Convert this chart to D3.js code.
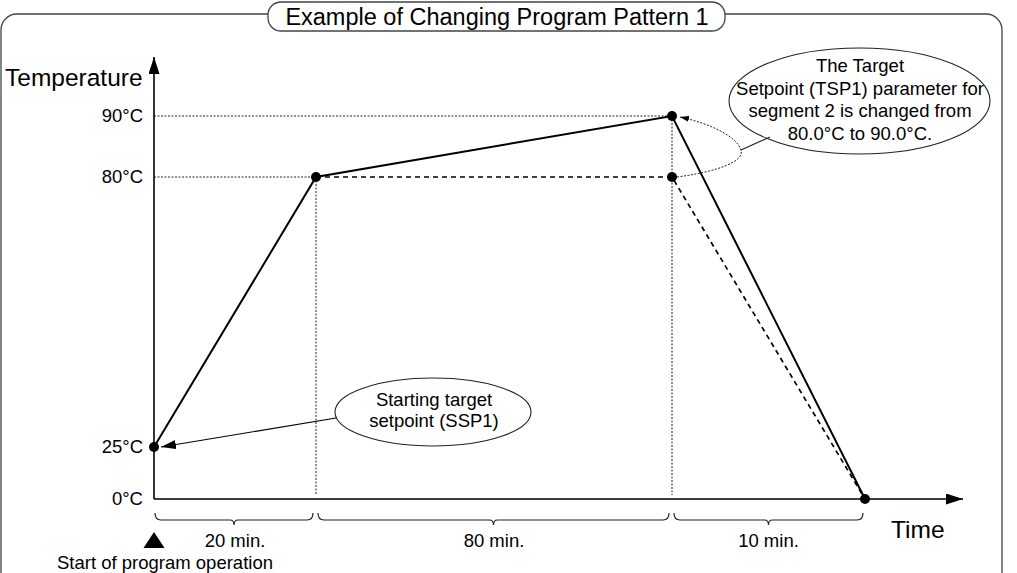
<!DOCTYPE html>
<html><head><meta charset="utf-8">
<script src="https://cdn.jsdelivr.net/npm/d3@7"></script>
<style>html,body{margin:0;padding:0;background:#fff}svg{display:block;font-family:"Liberation Sans",Arial,sans-serif}</style>
</head><body>
<script>
// ---- data ----
const timeBreaks = [0, 20, 100, 110];          // minutes (cumulative)
const tempTicks = [0, 25, 80, 90];             // °C
const tempTickLabels = ["0°C", "25°C", "80°C", "90°C"];
const changedTimes = [0, 20, 100, 110];
const changedTemps = [25, 80, 90, 0];
const originalTimes = [20, 100, 110];
const originalTemps = [80, 80, 0];
const segmentLabels = ["20 min.", "80 min.", "10 min."];
const titleText = "Example of Changing Program Pattern 1";
const calloutStart = ["Starting target", "setpoint (SSP1)"];
const calloutChange = ["The Target", "Setpoint (TSP1) parameter for", "segment 2 is changed from", "80.0°C to 90.0°C."];

const W = 1017, H = 573;
const svg = d3.select("body").append("svg").attr("width", W).attr("height", H);

// schematic (piecewise) scales
const x = d3.scaleLinear().domain(timeBreaks).range([154, 316, 672, 865]);
const y = d3.scaleLinear().domain(tempTicks).range([499, 447, 177, 116]);

const defs = svg.append("defs");
function marker(id, w, h, refX) {
  defs.append("marker").attr("id", id).attr("viewBox", `0 0 ${w} ${h}`)
    .attr("refX", refX).attr("refY", h / 2).attr("markerWidth", w).attr("markerHeight", h)
    .attr("markerUnits", "userSpaceOnUse").attr("orient", "auto")
    .append("path").attr("d", `M0,0 L${w},${h / 2} L0,${h} Z`).attr("fill", "#000");
}
marker("axArrow", 17, 11, 17);
marker("ptArrow", 15, 9, 15);
marker("smArrow", 9, 6, 9);

// frame
svg.append("rect").attr("x", 1).attr("y", 14).attr("width", 1001).attr("height", 620)
  .attr("rx", 16).attr("fill", "none").attr("stroke", "#444").attr("stroke-width", 1.3);
svg.append("rect").attr("x", 268).attr("y", 2).attr("width", 457).attr("height", 29)
  .attr("rx", 13).attr("fill", "#fff").attr("stroke", "#444").attr("stroke-width", 1.3);
svg.append("text").attr("x", 497).attr("y", 25).attr("text-anchor", "middle")
  .attr("font-size", 23.5).text(titleText);

// guide lines (dotted)
const g = svg.append("g").attr("stroke", "#222").attr("stroke-width", 1).attr("stroke-dasharray", "2,1.5").attr("fill", "none");
g.append("line").attr("x1", x(0)).attr("x2", x(100)).attr("y1", y(90)).attr("y2", y(90));
g.append("line").attr("x1", x(0)).attr("x2", x(20)).attr("y1", y(80)).attr("y2", y(80));
g.append("line").attr("x1", x(20)).attr("x2", x(20)).attr("y1", y(80)).attr("y2", y(0) - 4);
g.append("line").attr("x1", x(100)).attr("x2", x(100)).attr("y1", y(90)).attr("y2", y(0) - 4);

// axes
svg.append("line").attr("x1", x(0)).attr("y1", y(0)).attr("x2", x(0)).attr("y2", 57)
  .attr("stroke", "#000").attr("stroke-width", 1.6).attr("marker-end", "url(#axArrow)");
svg.append("line").attr("x1", x(0)).attr("y1", y(0)).attr("x2", 963).attr("y2", y(0))
  .attr("stroke", "#000").attr("stroke-width", 1.6).attr("marker-end", "url(#axArrow)");

const yAxis = d3.axisLeft(y).tickValues(tempTicks).tickSize(0).tickPadding(11)
  .tickFormat((d, i) => tempTickLabels[i]);
const ya = svg.append("g").attr("transform", `translate(${x(0)},0)`).call(yAxis);
ya.select(".domain").remove();
ya.selectAll("text").attr("font-size", 18.5).attr("fill", "#000")
  .attr("font-family", '"Liberation Sans",Arial,sans-serif');

svg.append("text").attr("x", 5).attr("y", 86).attr("font-size", 24.5).text("Temperature");
svg.append("text").attr("x", 891).attr("y", 538).attr("font-size", 24.5).text("Time");

// patterns
const line = d3.line().x(d => x(d[0])).y(d => y(d[1]));
const original = originalTimes.map((t, i) => [t, originalTemps[i]]);
const changed = changedTimes.map((t, i) => [t, changedTemps[i]]);
svg.append("path").datum(original).attr("d", line).attr("fill", "none")
  .attr("stroke", "#000").attr("stroke-width", 1.7).attr("stroke-dasharray", "5,4");
svg.append("path").datum(changed).attr("d", line).attr("fill", "none")
  .attr("stroke", "#000").attr("stroke-width", 2);
svg.selectAll("circle.pt").data(changed.concat([[100, 80]])).join("circle")
  .attr("cx", d => x(d[0])).attr("cy", d => y(d[1])).attr("r", 5).attr("fill", "#000");

// brackets under axis
const by = 513, bb = 520, bt = 525;
function brace(x1, x2) {
  const m = (x1 + x2) / 2;
  return `M${x1},${by} Q${x1},${bb} ${x1 + 6},${bb} L${m - 4},${bb} Q${m},${bb} ${m},${bt} Q${m},${bb} ${m + 4},${bb} L${x2 - 6},${bb} Q${x2},${bb} ${x2},${by}`;
}
const segs = segmentLabels.map((l, i) => ({ l, a: timeBreaks[i], b: timeBreaks[i + 1] }));
svg.selectAll("path.br").data(segs).join("path")
  .attr("d", (d, i) => brace(x(d.a) + (i === 0 ? 1 : 2), x(d.b) - (i === 2 ? 2 : 3)))
  .attr("fill", "none").attr("stroke", "#222").attr("stroke-width", 1.2);
svg.selectAll("text.sl").data(segs).join("text")
  .attr("x", d => (x(d.a) + x(d.b)) / 2).attr("y", 547).attr("text-anchor", "middle")
  .attr("font-size", 18.5).text(d => d.l);

// start marker
svg.append("path").attr("d", `M${x(0)},532 L${x(0) + 10.5},548 L${x(0) - 10.5},548 Z`).attr("fill", "#000");
svg.append("text").attr("x", 165).attr("y", 569).attr("text-anchor", "middle")
  .attr("font-size", 18.5).text("Start of program operation");

// callout 1: starting setpoint
svg.append("ellipse").attr("cx", 433).attr("cy", 412).attr("rx", 98).attr("ry", 34)
  .attr("fill", "#fff").attr("stroke", "#222").attr("stroke-width", 1.1);
svg.append("line").attr("x1", 336).attr("y1", 418).attr("x2", x(0) + 7).attr("y2", y(25))
  .attr("stroke", "#000").attr("stroke-width", 1.1).attr("marker-end", "url(#ptArrow)");
svg.append("text").attr("text-anchor", "middle").attr("font-size", 18.5)
  .selectAll("tspan").data(calloutStart).join("tspan")
  .attr("x", 434).attr("y", (d, i) => 406 + i * 21).text(d => d);

// callout 2: changed TSP
svg.append("path")
  .attr("d", `M${x(100) + 5},${y(80)} C715,172 745,162 741,150 C737,137 712,124 ${x(100) + 8},${y(90) + 1}`)
  .attr("fill", "none").attr("stroke", "#222").attr("stroke-width", 1).attr("stroke-dasharray", "2,1.5")
  .attr("marker-end", "url(#smArrow)");
svg.append("line").attr("x1", 741).attr("y1", 150).attr("x2", 770).attr("y2", 137)
  .attr("stroke", "#222").attr("stroke-width", 1.1);
svg.append("ellipse").attr("cx", 859.5).attr("cy", 101).attr("rx", 130.5).attr("ry", 53)
  .attr("fill", "none").attr("stroke", "#222").attr("stroke-width", 1.1);
svg.append("text").attr("text-anchor", "middle").attr("font-size", 18.5)
  .selectAll("tspan").data(calloutChange).join("tspan")
  .attr("x", 860).attr("y", (d, i) => 72 + i * 22.5).text(d => d);
</script>
</body></html>
